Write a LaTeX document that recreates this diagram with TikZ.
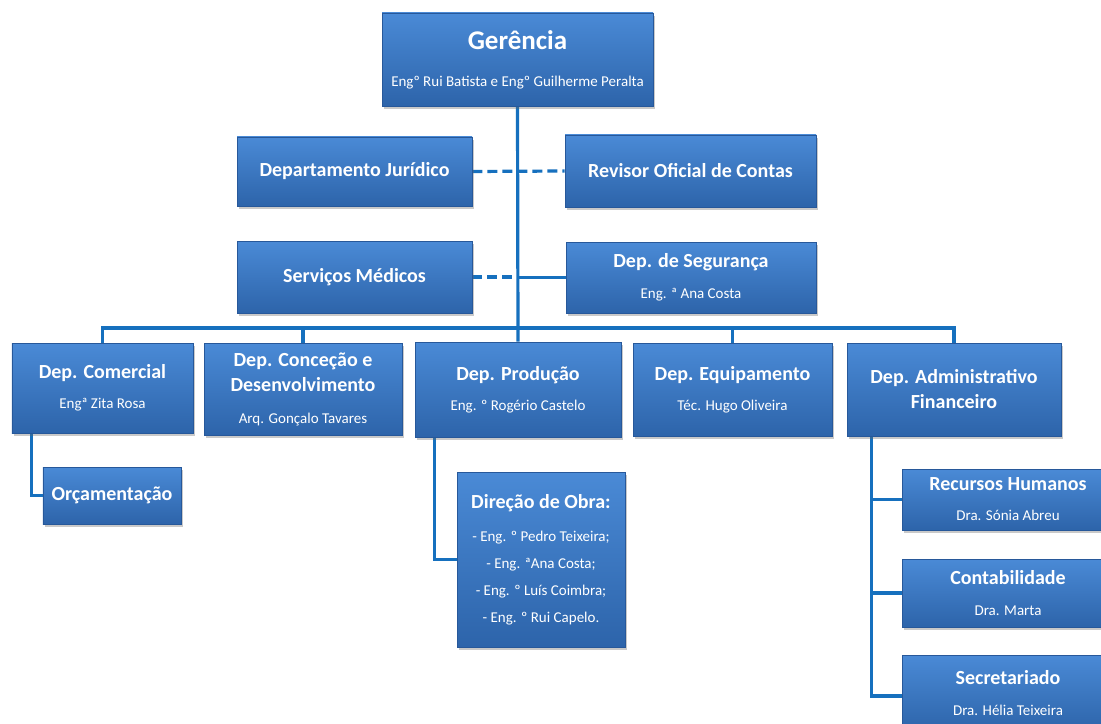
\documentclass[tikz,border=0pt]{standalone}
\usepackage{fontspec}
\setmainfont{Carlito}
\usetikzlibrary{shadows,backgrounds}
\definecolor{boxtop}{HTML}{4A8AD6}
\definecolor{boxbot}{HTML}{2D64AA}
\definecolor{boxline}{HTML}{27589A}
\definecolor{orgline}{HTML}{1670BE}
\newcommand\boxtitle{\fontsize{20bp}{24bp}\selectfont\bfseries}
\newcommand\boxname{\fontsize{15bp}{24bp}\selectfont}
\tikzset{
  unit/.style={draw=boxline, line width=0.6bp, top color=boxtop, bottom color=boxbot,
    text=white, align=center, inner sep=0pt, font=\fontsize{15bp}{24bp}\selectfont,
    drop shadow={shadow xshift=2bp, shadow yshift=-3bp, opacity=0.35, fill=black!60}},
  boxsize/.style 2 args={minimum width=#1bp, minimum height=#2bp},
  link/.style={draw=orgline, line width=3.2bp},
  dashlink/.style={link, dash pattern=on 10bp off 5bp},
}
\begin{document}
\begin{tikzpicture}[x=1bp, y=-1bp]
  \useasboundingbox (0,0) rectangle (1101,724);
  \begin{scope}[on background layer]
    \fill[white] (0,0) rectangle (1101,724);
  \end{scope}
  \clip (0,0) rectangle (1101,724);
  % top
  \node[unit, boxsize={271}{93}] (ger) at (517.5,59.5)
    {{\fontsize{27bp}{30bp}\selectfont\bfseries Gerência}\\[13bp]\boxname Engº Rui Batista e Engº Guilherme Peralta};
  \node[unit, boxsize={235}{69}] (jur) at (354.5,171.5) {\boxtitle Departamento Jurídico};
  \node[unit, boxsize={251}{72}] (rev) at (690.5,171) {\boxtitle Revisor Oficial de Contas};
  \node[unit, boxsize={235}{72}] (med) at (354.5,277) {\boxtitle Serviços Médicos};
  \node[unit, boxsize={250}{71}] (seg) at (691,277.5) {\boxtitle Dep. de Segurança\\[7bp] \boxname Eng. ª Ana Costa};
  \coordinate (bus) at (518,328);
  % departments
  \node[unit, boxsize={181}{90}] (com) at (102.5,388) {\boxtitle Dep. Comercial\\[6bp] \boxname Engª Zita Rosa};
  \node[unit, boxsize={198}{92}] (con) at (303,389) {\boxtitle Dep. Conceção e\\[1bp] \boxtitle Desenvolvimento\\[8bp] \boxname Arq. Gonçalo Tavares};
  \node[unit, boxsize={206}{95}] (prod) at (518,389.5) {\boxtitle Dep. Produção\\[6bp] \boxname Eng. º Rogério Castelo};
  \node[unit, boxsize={199}{93}] (equ) at (732.5,389.5) {\boxtitle Dep. Equipamento\\[6bp] \boxname Téc. Hugo Oliveira};
  \node[unit, boxsize={214}{93}] (adm) at (954,389.5) {\boxtitle Dep. Administrativo\\[1bp] \boxtitle Financeiro};
  % sub units
  \node[unit, boxsize={138}{57}] (orc) at (112,495.5) {\boxtitle Orçamentação};
  \node[unit, boxsize={168}{175}] (obra) at (541,559.5)
    {\boxtitle Direção de Obra:\\[9bp] \boxname - Eng. º Pedro Teixeira;\\[3bp] \boxname - Eng. ªAna Costa;\\[3bp]
     \boxname - Eng. º Luís Coimbra;\\[3bp] \boxname - Eng. º Rui Capelo.};
  \node[unit, boxsize={212}{61}] (rh) at (1008,499.5) {\boxtitle Recursos Humanos\\[6bp] \boxname Dra. Sónia Abreu};
  \node[unit, boxsize={212}{68}] (cont) at (1008,593) {\boxtitle Contabilidade\\[7bp] \boxname Dra. Marta};
  \node[unit, boxsize={212}{76}] (sec) at (1008,693) {\boxtitle Secretariado\\[7bp] \boxname Dra. Hélia Teixeira};
  % connectors
  \begin{scope}[on background layer]
    \draw[link] (ger.south) -- (prod.north);
    \draw[link] (com.north) |- (bus) -| (adm.north);
    \foreach \n in {con,equ}
      \draw[link] (\n.north) -- (\n.north |- bus);
    \draw[dashlink] (jur.east) -- (rev.west);
    \draw[dashlink] (med.east) -- (med.east -| ger.south);
    \draw[link] (seg.west) -- (seg.west -| ger.south);
    \draw[link] ([xshift=20bp]com.south west) |- (orc.west);
    \draw[link] ([xshift=20bp]prod.south west) |- (obra.west);
    \foreach \n in {rh,cont}
      \draw[link] ([xshift=25bp]adm.south west) |- (\n.west);
    \draw[link] ([xshift=25bp]adm.south west) |- ([yshift=-3bp]sec.west);
  \end{scope}
\end{tikzpicture}
\end{document}
